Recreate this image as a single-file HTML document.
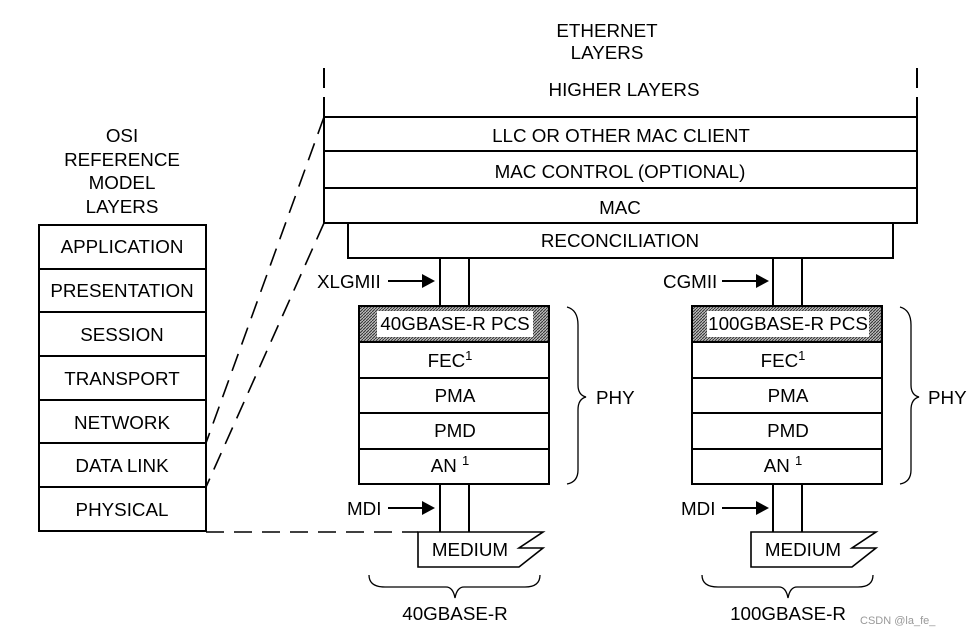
<!DOCTYPE html>
<html><head><meta charset="utf-8"><style>
html,body{margin:0;padding:0;background:#fff}
svg text{font-family:"Liberation Sans",Arial,sans-serif;font-size:18.8px;fill:#000}
</style></head><body>
<svg width="978" height="634" viewBox="0 0 978 634" xmlns="http://www.w3.org/2000/svg">
<defs>
<pattern id="h" width="3" height="3" patternUnits="userSpaceOnUse"><rect width="3" height="3" fill="#bbb"/><path d="M0,3 L3,0" stroke="#333" stroke-width="1"/></pattern>
</defs>
<g stroke="#000" stroke-width="2" fill="none">
<path d="M324,68V88M324,97V117M917,68V88M917,97V117"/>
<rect x="324" y="117" width="593" height="106" fill="#fff"/>
<path d="M324,151H917M324,188H917"/>
<rect x="348" y="223" width="545" height="35" fill="#fff"/>
<rect x="39" y="225" width="167" height="306"/>
<path d="M39,269H206M39,312H206M39,356H206M39,400H206M39,443H206M39,487H206"/>
<path d="M324,117L206,443M324,223L206,487M206,532H418" stroke-dasharray="18,10" stroke-width="1.6"/>
<path d="M440,258V306M469,258V306M440,484V532M469,484V532M773,258V306M802,258V306M773,484V532M802,484V532"/>
<rect x="359" y="306" width="190" height="178" fill="#fff"/>
<rect x="360" y="307" width="188" height="35" fill="url(#h)" stroke="none"/>
<rect x="377" y="311" width="156" height="26" fill="#fff" stroke="none"/>
<path d="M359,342H549M359,378H549M359,413H549M359,449H549"/>
<rect x="692" y="306" width="190" height="178" fill="#fff"/>
<rect x="693" y="307" width="188" height="35" fill="url(#h)" stroke="none"/>
<rect x="707" y="311" width="162" height="26" fill="#fff" stroke="none"/>
<path d="M692,342H882M692,378H882M692,413H882M692,449H882"/>
<path d="M418,532H543L519,548H543L519,567H418Z" stroke-width="1.6"/>
<path d="M751,532H876L852,548H876L852,567H751Z" stroke-width="1.6"/>
<path d="M388,281H424M722,281H758M388,508H424M722,508H758"/>
<path d="M567,307Q578,310 578,325V385Q578,395 586,397Q578,399 578,410V470Q578,482 567,484" stroke-width="1.3"/>
<path d="M900,307Q911,310 911,325V385Q911,395 919,397Q911,399 911,410V470Q911,482 900,484" stroke-width="1.3"/>
<path d="M369,575Q369,587 385,587H446Q453,587 455,598Q457,587 464,587H525Q540,587 540,575" stroke-width="1.3"/>
<path d="M702,575Q702,587 718,587H779Q786,587 788,598Q790,587 797,587H858Q873,587 873,575" stroke-width="1.3"/>
</g>
<g fill="#000">
<polygon points="422,274 435,281 422,288"/>
<polygon points="756,274 769,281 756,288"/>
<polygon points="422,501 435,508 422,515"/>
<polygon points="756,501 769,508 756,515"/>
</g>
<g text-anchor="middle">
<text x="607" y="37">ETHERNET</text><text x="607" y="59">LAYERS</text>
<text x="624" y="96">HIGHER LAYERS</text>
<text x="621" y="142">LLC OR OTHER MAC CLIENT</text>
<text x="620" y="178">MAC CONTROL (OPTIONAL)</text>
<text x="620" y="214">MAC</text>
<text x="620" y="247">RECONCILIATION</text>
<text x="122" y="142">OSI</text><text x="122" y="166">REFERENCE</text><text x="122" y="189">MODEL</text><text x="122" y="213">LAYERS</text>
<text x="122" y="253">APPLICATION</text>
<text x="122" y="297">PRESENTATION</text>
<text x="122" y="341">SESSION</text>
<text x="122" y="385">TRANSPORT</text>
<text x="122" y="429">NETWORK</text>
<text x="122" y="472">DATA LINK</text>
<text x="122" y="516">PHYSICAL</text>
<text x="455" y="330">40GBASE-R PCS</text>
<text x="450" y="367">FEC<tspan dy="-7" font-size="13">1</tspan></text>
<text x="455" y="402">PMA</text>
<text x="455" y="437">PMD</text>
<text x="450" y="472">AN <tspan dy="-7" font-size="13">1</tspan></text>
<text x="788" y="330">100GBASE-R PCS</text>
<text x="783" y="367">FEC<tspan dy="-7" font-size="13">1</tspan></text>
<text x="788" y="402">PMA</text>
<text x="788" y="437">PMD</text>
<text x="783" y="472">AN <tspan dy="-7" font-size="13">1</tspan></text>
<text x="470" y="556">MEDIUM</text>
<text x="803" y="556">MEDIUM</text>
<text x="455" y="620">40GBASE-R</text>
<text x="788" y="620">100GBASE-R</text>
</g>
<text x="317" y="288">XLGMII</text>
<text x="663" y="288">CGMII</text>
<text x="347" y="515">MDI</text>
<text x="681" y="515">MDI</text>
<text x="596" y="404">PHY</text>
<text x="928" y="404">PHY</text>
<text x="860" y="624" style="font-size:11px;fill:#999">CSDN @la_fe_</text>
</svg>
</body></html>
